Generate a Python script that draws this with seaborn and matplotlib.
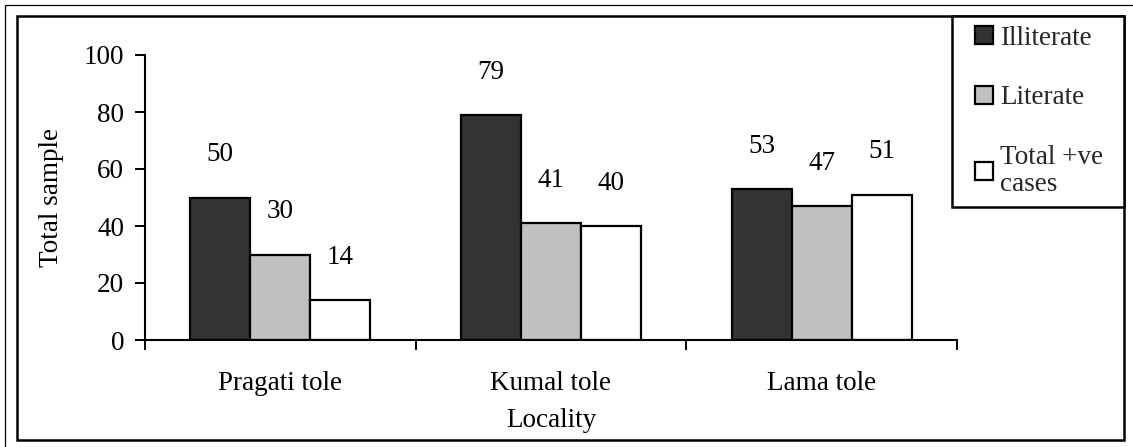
import matplotlib
matplotlib.use("Agg")
import matplotlib.pyplot as plt
from matplotlib.patches import Rectangle, Patch
from matplotlib.legend_handler import HandlerPatch
import seaborn as sns
import pandas as pd

# Survey counts by locality
localities = ["Pragati tole", "Kumal tole", "Lama tole"]
groups = ["Illiterate", "Literate", "Total +ve\ncases"]
illiterate = [50, 79, 53]
literate = [30, 41, 47]
positive_cases = [14, 40, 51]
y_ticks = [0, 20, 40, 60, 80, 100]

series = [illiterate, literate, positive_cases]
df = pd.DataFrame({
    "Locality": [loc for s in series for loc in localities],
    "Group": [g for g, s in zip(groups, series) for _ in s],
    "Total sample": [v for s in series for v in s],
})

sns.set_theme(style="white")
plt.rcParams["font.family"] = ["Liberation Serif", "DejaVu Serif"]
FS = 19.5

W, H = 1133, 447
fig = plt.figure(figsize=(W / 100, H / 100), dpi=100)
ax = fig.add_axes([145 / W, 1 - 340 / H, (957 - 145) / W, (340 - 55) / H])

colors = ["#333333", "#c0c0c0", "#ffffff"]
sns.barplot(data=df, x="Locality", y="Total sample", hue="Group",
            order=localities, hue_order=groups, palette=colors,
            width=0.665, gap=0, edgecolor="black", linewidth=1.6,
            errorbar=None, legend=False, ax=ax)

# value labels above each bar
for container, vals in zip(ax.containers, series):
    for bar, v in zip(container, vals):
        cx = bar.get_x() + bar.get_width() / 2
        ax.text(cx, v + 15, f"{v}", ha="center", va="center",
                fontsize=FS, color="black")

ax.set_xlim(-0.5, len(localities) - 0.5)
ax.set_ylim(0, 100)
ax.set_yticks(y_ticks)
ax.set_yticklabels([str(t) for t in y_ticks], fontsize=FS)
ax.set_xticks(range(len(localities)))
ax.set_xticklabels(localities, fontsize=FS)
ax.set_xticks([i - 0.5 for i in range(len(localities) + 1)], minor=True)
ax.tick_params(axis="x", which="major", length=0, pad=22, colors="black")
ax.tick_params(axis="x", which="minor", length=7, width=1.4, direction="out",
               bottom=True, color="black")
ax.tick_params(axis="y", which="major", length=7, width=1.4, direction="out",
               left=True, pad=8, colors="black")
for side in ["top", "right"]:
    ax.spines[side].set_visible(False)
for side in ["left", "bottom"]:
    ax.spines[side].set_color("black")
    ax.spines[side].set_linewidth(1.5)
ax.set_xlabel("Locality", fontsize=FS, color="black", labelpad=9)
ax.set_ylabel("Total sample", fontsize=FS, color="black", labelpad=14)
ax.patch.set_alpha(0)


# square swatch drawn at the right end of the handle slot
def square_swatch(legend, orig_handle, xdescent, ydescent, width, height, fontsize):
    return Rectangle((-xdescent + width - height, -ydescent), height, height)


handles = [Patch(facecolor=c, edgecolor="black", linewidth=1.6) for c in colors]
x0, x1 = 952 / W, 1124 / W
leg = fig.legend(handles, groups, loc="upper left",
                 bbox_to_anchor=(x0, 1 - 16 / H, x1 - x0, 0), mode="expand",
                 frameon=True, fancybox=False, framealpha=1,
                 edgecolor="black", fontsize=FS, handlelength=1.15,
                 handleheight=0.65, handletextpad=0.26, labelspacing=1.28,
                 borderpad=0.36, borderaxespad=0,
                 handler_map={Patch: HandlerPatch(patch_func=square_swatch)})
leg.get_frame().set_linewidth(1.8)
for t in leg.get_texts():
    t.set_linespacing(1.12)

# outer frames
px = fig.transFigure.inverted()
def fig_rect(x0, y0, x1, y1, lw):
    (a, b) = px.transform((x0, H - y1))
    (c, d) = px.transform((x1, H - y0))
    fig.add_artist(Rectangle((a, b), c - a, d - b, transform=fig.transFigure,
                             fill=False, edgecolor="black", linewidth=lw))

fig_rect(5, 5, 1160, 470, 0.9)
fig_rect(17, 16, 1124, 440, 1.8)

fig.savefig("out.png", dpi=100)
